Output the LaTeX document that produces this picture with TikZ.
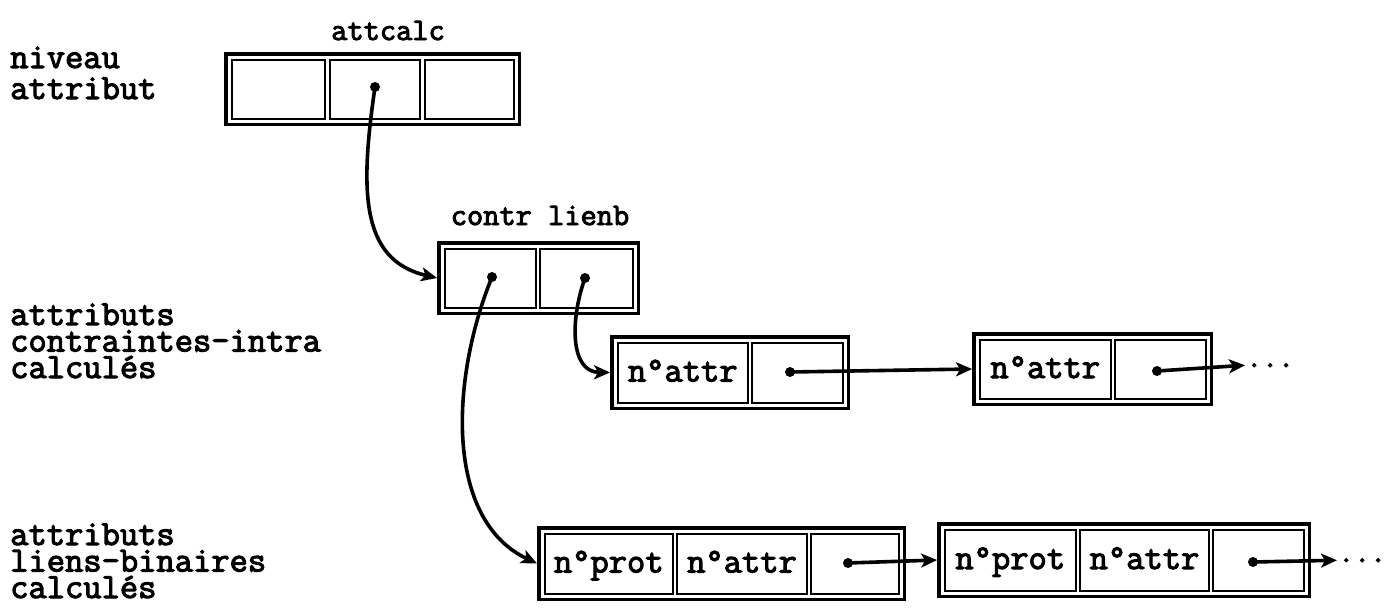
\documentclass[tikz,border=0pt]{standalone}
\usepackage{fontspec}
\newfontfamily\cour{Latin Modern Mono}[FakeBold=3]
\usetikzlibrary{arrows.meta,fit}
\newcommand\mkcell[6]{%
  \node[cellbox, minimum width={(#3-#2)*1pt}, minimum height={(#5-#4)*1pt}] (#1) at ({(#2+#3)/2},{(#4+#5)/2}) {#6};}
\tikzset{
  cellbox/.style={draw, line width=2pt, inner sep=0pt,
    font=\cour\fontsize{35.5}{35.5}\selectfont, text height=24pt, text depth=6pt},
  outerbox/.style={draw, line width=3.4pt, inner sep=4.7pt},
  ptr/.style={circle, fill, inner sep=0pt, minimum size=10pt},
  link/.style={line width=3.6pt, -{Stealth[length=16pt,width=14pt,inset=4pt]}},
  lab/.style={align=left, inner sep=0pt, anchor=base west},
  labA/.style={lab, font=\cour\fontsize{35.5}{31}\selectfont},
  labB/.style={lab, font=\cour\fontsize{35.5}{26.5}\selectfont},
  head/.style={inner sep=0pt, anchor=base, font=\cour\fontsize{31.5}{31.5}\selectfont},
  etc/.style={inner sep=1pt, anchor=base west, font=\cour\fontsize{31}{31}\selectfont},
}
\begin{document}
\begin{tikzpicture}[x=1pt,y=-1pt]
\useasboundingbox (0,0) rectangle (1393,611);
% left labels
\node[labA] (l1) at (10,99) {niveau\\attribut};
\node[labB] (l2) at (10,378) {attributs\\contraintes-intra\\calculés};
\node[labB] (l3) at (10,598) {attributs\\liens-binaires\\calculés};
% headers
\node[head] (h1) at (388,40) {attcalc};
\node[head] (h2) at (540,225) {contr lienb};
% box A
\mkcell{A1}{231.5}{324.5}{59.5}{118.5}{}
\mkcell{A2}{329.5}{419.5}{59.5}{118.5}{}
\mkcell{A3}{424.5}{513.5}{59.5}{118.5}{}
\node[outerbox, fit=(A1)(A3)] (A) {};
% box B
\mkcell{B1}{444.5}{536}{248.5}{307.5}{}
\mkcell{B2}{540}{632.5}{248.5}{307.5}{}
\node[outerbox, fit=(B1)(B2)] (B) {};
% box C1
\mkcell{C11}{617.5}{748}{342.5}{402.5}{n°attr}
\mkcell{C12}{752}{842.5}{342.5}{402.5}{}
\node[outerbox, fit=(C11)(C12)] (C1) {};
% box C2
\mkcell{C21}{979.5}{1111}{339.5}{398.5}{n°attr}
\mkcell{C22}{1115}{1205.5}{339.5}{398.5}{}
\node[outerbox, fit=(C21)(C22)] (C2) {};
% box D1
\mkcell{D11}{544.5}{673}{533.5}{593.5}{n°prot}
\mkcell{D12}{677}{807}{533.5}{593.5}{n°attr}
\mkcell{D13}{811}{898.5}{533.5}{593.5}{}
\node[outerbox, fit=(D11)(D13)] (D1) {};
% box D2
\mkcell{D21}{944.5}{1076}{529.5}{590.5}{n°prot}
\mkcell{D22}{1080}{1209}{529.5}{590.5}{n°attr}
\mkcell{D23}{1213}{1303.5}{529.5}{590.5}{}
\node[outerbox, fit=(D21)(D23)] (D2) {};
% pointer dots
\node[ptr] (pA) at (375,87) {};
\node[ptr] (pB1) at (492,277) {};
\node[ptr] (pB2) at (585,278) {};
\node[ptr] (pC1) at (790,372) {};
\node[ptr] (pC2) at (1157,371) {};
\node[ptr] (pD1) at (848,563) {};
\node[ptr] (pD2) at (1253,562) {};
% continuation dots
\node[etc] (eC) at (1245,367) {...};
\node[etc] (eD) at (1337,562) {...};
% links
\draw[link] (pA.center) .. controls (360,190) and (360,260) .. (B.west);
\draw[link] (pB1.center) .. controls (450,380) and (445,520) .. (D1.west);
\draw[link] (pB2.center) .. controls (570,320) and (570,372) .. (C1.west);
\draw[link] (pC1.center) -- (C2.west);
\draw[link] (pC2.center) -- (eC.west);
\draw[link] (pD1.center) -- (D2.west);
\draw[link] (pD2.center) -- (eD.west);
\end{tikzpicture}
\end{document}
